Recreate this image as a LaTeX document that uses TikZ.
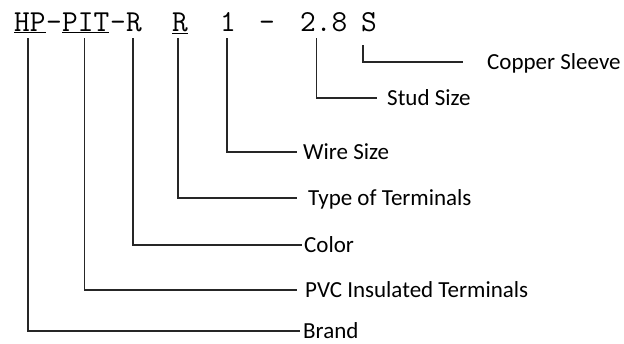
\documentclass[tikz,border=0pt]{standalone}
\usepackage{fontspec}
\setmainfont{Carlito}
\begin{document}
\begin{tikzpicture}[x=1pt,y=-1pt,
  code/.style={inner sep=0pt, anchor=base west, font=\ttfamily\fontsize{30.5}{34}\selectfont},
  lbl/.style={inner sep=0pt, anchor=west, text height=14.8pt, text depth=0pt, font=\fontsize{23}{26}\selectfont},
  conn/.style={line width=1.2pt, draw=black!85}]
\useasboundingbox (0,0) rectangle (624,343);
% code string
\node[code] (t1) at (14,31) {\underline{HP}};
\node[code] (d1) at (46,31) {-};
\node[code] (t2) at (62,31) {\underline{PIT}};
\node[code] (d2) at (110,31) {-};
\node[code] (t3) at (126,31) {R};
\node[code] (t4) at (172,31) {\underline{R}};
\node[code] (t5) at (220,31) {1};
\node[code] (d3) at (259,31) {-};
\node[code] (t6) at (300,31) {2.8};
\node[code] (t7) at (361,31) {S};
% labels
\node[lbl] (copper) at (487,62) {Copper Sleeve};
\node[lbl] (stud) at (387,98) {Stud Size};
\node[lbl] (wire) at (303,152) {Wire Size};
\node[lbl] (type) at (308,198) {Type of Terminals};
\node[lbl] (color) at (304,245) {Color};
\node[lbl] (pvc) at (305,290) {PVC Insulated Terminals};
\node[lbl] (brand) at (303,331) {Brand};
% connectors
\draw[conn] ([xshift=-2pt,yshift=-7pt]t1.base) |- ([xshift=-3pt]brand.west);
\draw[conn] ([xshift=-1pt,yshift=-7pt]t2.base) |- ([xshift=-8pt]pvc.west);
\draw[conn] ([xshift=-1pt,yshift=-7pt]t3.base) |- ([xshift=-2pt]color.west);
\draw[conn] ([xshift=-2pt,yshift=-7pt]t4.base) |- ([xshift=-11pt]type.west);
\draw[conn] ([xshift=-1pt,yshift=-7pt]t5.base) |- ([xshift=-6pt]wire.west);
\draw[conn] ([xshift=-7pt,yshift=-7pt]t6.base) |- ([xshift=-10pt]stud.west);
\draw[conn] ([xshift=-6pt,yshift=-14pt]t7.base) |- ([xshift=-24pt]copper.west);
\end{tikzpicture}
\end{document}
